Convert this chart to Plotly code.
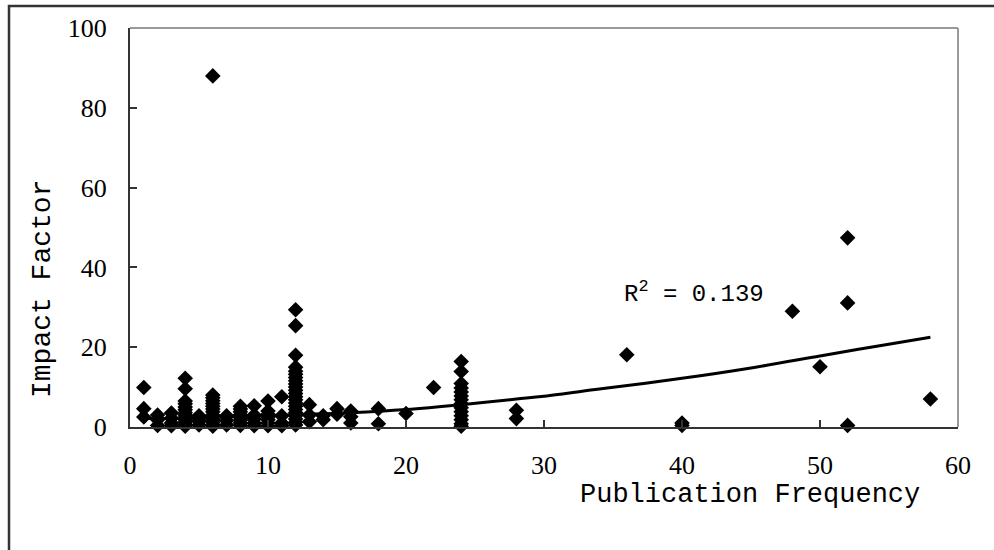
import plotly.graph_objects as go

# Publication frequency (x) and impact factor (y) for each journal
pub_freq = (
    [1] * 3 + [2] * 3 + [3] * 4 + [4] * 13 + [5] * 3 + [6] * 14 + [7] * 3 +
    [8] * 8 + [9] * 5 + [10] * 7 + [11] * 4 + [12] * 22 + [13] * 3 + [14] * 2 +
    [15] * 2 + [16] * 3 + [18] * 2 + [20] + [22] + [24] * 14 + [28] * 2 +
    [36] + [40] * 2 + [48] + [50] + [52] * 3 + [58]
)
impact_factor = (
    [9.9, 4.6, 2.5] +
    [3.0, 1.8, 0.4] +
    [3.5, 2.2, 1.0, 0.3] +
    [12.2, 9.6, 6.5, 5.8, 5.0, 4.3, 3.6, 3.0, 2.4, 1.8, 1.2, 0.6, 0.2] +
    [2.8, 1.5, 0.5] +
    [88.0, 8.0, 7.3, 6.6, 5.9, 5.2, 4.5, 3.8, 3.0, 2.4, 1.8, 1.2, 0.6, 0.2] +
    [2.8, 1.6, 0.5] +
    [5.2, 4.5, 3.8, 3.1, 2.4, 1.7, 1.0, 0.4] +
    [5.3, 3.0, 2.0, 1.0, 0.3] +
    [6.5, 4.0, 3.2, 2.5, 1.8, 1.0, 0.3] +
    [7.6, 2.8, 1.0, 0.3] +
    [29.4, 25.4, 18.0, 15.0, 14.0, 13.2, 12.4, 11.6, 10.8, 10.0, 9.2, 8.4,
     7.6, 6.8, 6.0, 5.2, 4.4, 3.6, 2.8, 2.0, 1.2, 0.5] +
    [5.6, 3.0, 1.3] +
    [2.8, 1.8] +
    [4.6, 3.2] +
    [4.0, 2.6, 1.0] +
    [4.6, 0.8] +
    [3.4] +
    [9.9] +
    [16.4, 13.9, 10.9, 9.8, 8.8, 7.8, 6.8, 5.8, 4.8, 3.8, 2.8, 1.8, 0.8, 0.2] +
    [4.2, 2.1] +
    [18.1] +
    [1.0, 0.4] +
    [29.0] +
    [15.1] +
    [47.4, 31.1, 0.4] +
    [7.0]
)

# Trendline
trend_x = [1, 6, 12, 16, 20, 24, 28, 30, 34, 40, 45, 50, 54, 58]
trend_y = [2.1, 2.4, 3.1, 3.6, 4.4, 5.6, 7.0, 7.7, 9.5, 12.2, 14.8, 17.8, 20.2, 22.5]

x_ticks = [0, 10, 20, 30, 40, 50, 60]
y_ticks = [0, 20, 40, 60, 80, 100]
r2_text = "R<sup>2</sup> = 0.139"
x_title = "Publication Frequency"
y_title = "Impact Factor"

W, H = 994, 550
L, R, T, B = 130, 36, 28, 123
pw, ph = W - L - R, H - T - B

def px_to_paper_x(px):
    return (px - L) / pw

def px_to_paper_y(py):
    return (H - B - py) / ph

fig = go.Figure()

fig.add_trace(go.Scatter(
    x=trend_x, y=trend_y, mode="lines",
    line=dict(color="black", width=3, shape="spline"),
    hoverinfo="skip", showlegend=False,
))
fig.add_trace(go.Scatter(
    x=pub_freq, y=impact_factor, mode="markers",
    marker=dict(symbol="diamond", size=12, color="black", line=dict(width=0)),
    cliponaxis=False, showlegend=False,
))

tick_font = dict(family="Liberation Serif", size=26, color="black")

fig.update_xaxes(
    range=[0, 60], tickvals=x_ticks, ticktext=[str(v) for v in x_ticks],
    ticks="inside", ticklen=7, tickwidth=1.5, tickcolor="#333",
    showline=True, linecolor="#333", linewidth=2, mirror=False,
    showgrid=False, zeroline=False, tickfont=tick_font,
    ticklabelstandoff=14,
)
fig.update_yaxes(
    range=[0, 100], tickvals=y_ticks, ticktext=[str(v) for v in y_ticks],
    ticks="inside", ticklen=7, tickwidth=1.5, tickcolor="#333",
    showline=True, linecolor="#333", linewidth=2, mirror=False,
    showgrid=False, zeroline=False, tickfont=tick_font,
    ticklabelstandoff=16,
)

shapes = [
    dict(type="line", xref="paper", yref="paper", x0=0, x1=1, y0=1, y1=1,
         line=dict(color="#999", width=2)),
    dict(type="line", xref="paper", yref="paper", x0=1, x1=1, y0=0, y1=1,
         line=dict(color="#999", width=2)),
    dict(type="rect", xref="paper", yref="paper",
         x0=px_to_paper_x(9), x1=px_to_paper_x(1010),
         y0=px_to_paper_y(570), y1=px_to_paper_y(6),
         line=dict(color="#333", width=2.5), layer="below"),
]

annotations = [
    dict(text=r2_text, x=px_to_paper_x(694), y=px_to_paper_y(292),
         xref="paper", yref="paper", showarrow=False,
         font=dict(family="Liberation Mono", size=24, color="black"),
         xanchor="center", yanchor="middle"),
    dict(text=x_title, x=px_to_paper_x(750), y=px_to_paper_y(495),
         xref="paper", yref="paper", showarrow=False,
         font=dict(family="Liberation Mono", size=27, color="black"),
         xanchor="center", yanchor="middle"),
    dict(text=y_title, x=px_to_paper_x(42), y=px_to_paper_y(289),
         xref="paper", yref="paper", showarrow=False,
         font=dict(family="Liberation Mono", size=28, color="black"),
         textangle=-90, xanchor="center", yanchor="middle"),
]

fig.update_layout(
    width=W, height=H,
    margin=dict(l=L, r=R, t=T, b=B, pad=0),
    paper_bgcolor="white", plot_bgcolor="white",
    shapes=shapes, annotations=annotations,
    showlegend=False,
)

fig.write_html(
    "out.html",
    config={"displayModeBar": False},
    post_script="document.body.style.margin='0px';",
)
